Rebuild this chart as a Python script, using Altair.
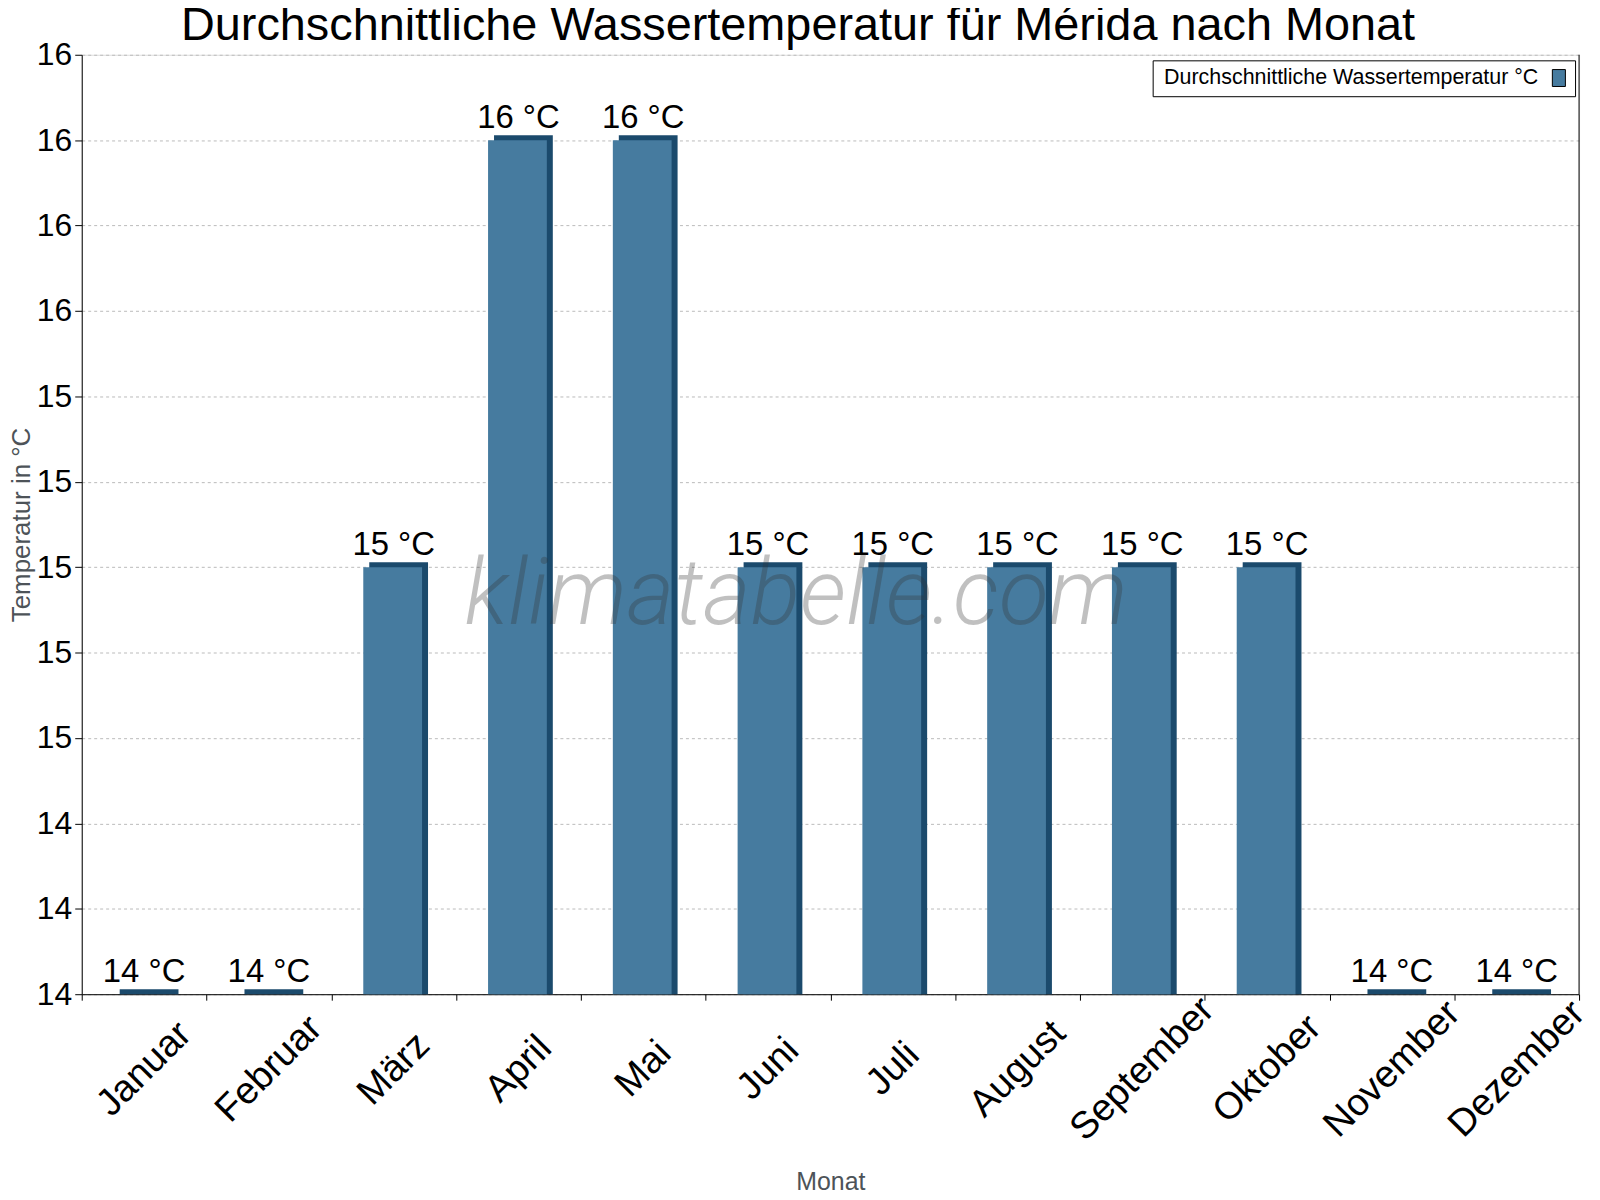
import altair as alt
import pandas as pd

months = ["Januar", "Februar", "März", "April", "Mai", "Juni", "Juli",
          "August", "September", "Oktober", "November", "Dezember"]
temps = [14, 14, 15, 16, 16, 15, 15, 15, 15, 15, 14, 14]
labels = ["14 °C", "14 °C", "15 °C", "16 °C", "16 °C", "15 °C", "15 °C",
          "15 °C", "15 °C", "15 °C", "14 °C", "14 °C"]
y_ticks = [14.0, 14.2, 14.4, 14.6, 14.8, 15.0, 15.2, 15.4, 15.6, 15.8, 16.0, 16.2]
series_name = "Durchschnittliche Wassertemperatur °C"
title_text = "Durchschnittliche Wassertemperatur für Mérida nach Monat"
watermark = "klimatabelle.com"

FRONT = "#467b9f"
DARK = "#1b4a6c"
FONT = "Liberation Sans"
W, H = 1503, 943

df = pd.DataFrame({"Monat": months, "temp": temps, "label": labels,
                   "series": [series_name] * len(months)})

x_enc = alt.X("Monat:N", sort=months,
              scale=alt.Scale(paddingInner=0, paddingOuter=0),
              axis=alt.Axis(title="Monat", labelAngle=-45, labelAlign="center",
                            labelBaseline="middle", labelFontSize=38, labelFont=FONT,
                            labelColor="black", labelPadding=69, labelOverlap=False,
                            labelBound=False, labelLimit=0, tickBand="extent",
                            tickSize=6, tickColor="black", domainColor="black",
                            grid=False, titleFontSize=25, titleFont=FONT,
                            titleColor="#4d5358", titleFontWeight="normal",
                            titleY=196, titleBaseline="alphabetic"))
y_enc = alt.Y("temp:Q",
              scale=alt.Scale(domain=[14, 16.2], zero=False, nice=False),
              axis=alt.Axis(values=y_ticks, format=".0f", labelFontSize=32,
                            labelFont=FONT, labelColor="black", labelPadding=3,
                            labelFlush=False, labelOverlap=False, tickSize=7,
                            tickColor="black", domainColor="black",
                            gridColor="#bbbbbb", gridDash=[3, 3],
                            title="Temperatur in °C", titleFontSize=26, titleFont=FONT,
                            titleColor="#4d5358", titleFontWeight="normal",
                            titleX=-60, titleY=H / 2, titleAngle=-90,
                            titleAlign="center", titleBaseline="middle"))

base = alt.Chart(df)

dark = base.mark_bar(size=59, color=DARK, xOffset=5, yOffset=-5).encode(
    x=x_enc, y=y_enc, y2=alt.datum(14))

front = base.mark_bar(size=59, xOffset=-1).encode(
    x=x_enc, y=y_enc, y2=alt.datum(14),
    color=alt.Color("series:N", scale=alt.Scale(range=[FRONT]),
                    legend=alt.Legend(title=None, orient="none", legendX=1075,
                                      legendY=5.6, strokeColor="black",
                                      fillColor="white", padding=7, cornerRadius=0,
                                      labelFontSize=21.5, labelFont=FONT,
                                      labelColor="black", labelLimit=0,
                                      symbolType="M-0.77,-1H0.77V1H-0.77Z",
                                      symbolSize=289, symbolStrokeColor="black",
                                      symbolStrokeWidth=1, symbolOpacity=1,
                                      symbolOffset=390,
                                      labelOffset={"expr": "-407"})))

text = base.mark_text(dy=-12, baseline="alphabetic", fontSize=33, font=FONT,
                      color="black").encode(x=x_enc, y=y_enc, text="label:N")

border = alt.Chart(pd.DataFrame({"a": [0]})).mark_rule(color="black").encode(
    x=alt.value(W), y=alt.value(0), y2=alt.value(H))

wm = alt.Chart(pd.DataFrame({"t": [watermark]})).mark_text(
    font="Roboto", fontWeight=300, fontStyle="italic", fontSize=92,
    color="#333333", opacity=0.3, align="center", baseline="alphabetic").encode(
    text="t:N", x=alt.value(717), y=alt.value(571))

title = alt.Chart(pd.DataFrame({"t": [title_text]})).mark_text(
    font=FONT, fontSize=47, color="black", align="center",
    baseline="alphabetic").encode(text="t:N", x=alt.value(719), y=alt.value(-15))

chart = alt.layer(dark, front, text, border, wm, title).properties(
    width=W, height=H,
    autosize=alt.AutoSizeParams(type="none"),
    padding={"left": 74, "top": 44.7, "right": 13, "bottom": 200},
).configure_view(stroke=None).configure(background="white")

chart.save("out.html", embed_options={"renderer": "svg", "actions": False})
